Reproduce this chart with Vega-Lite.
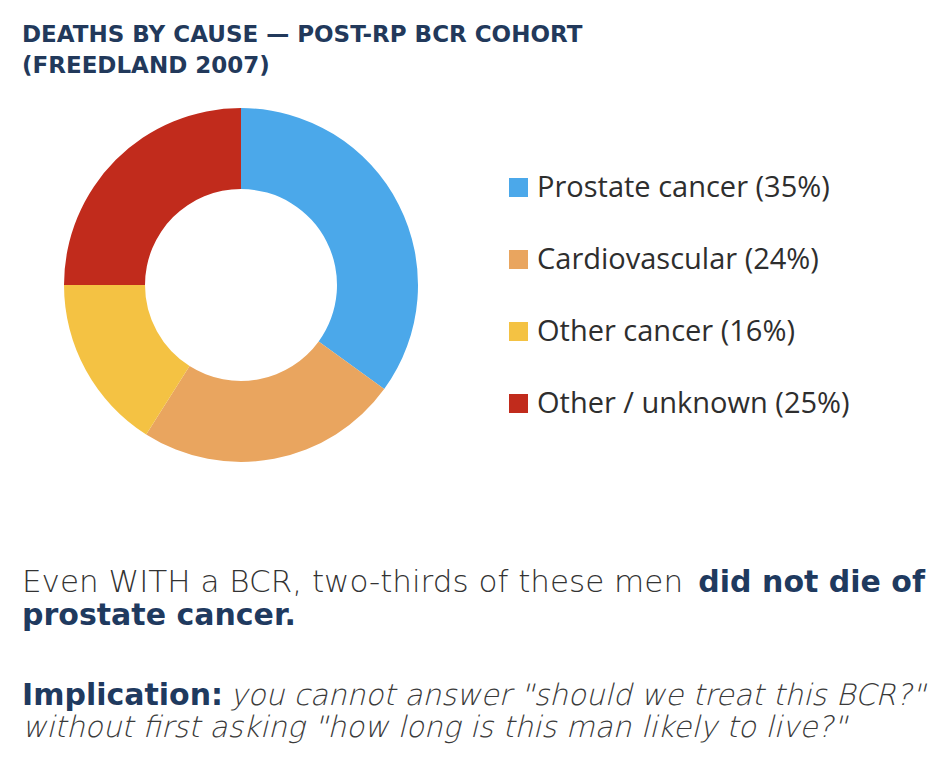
{
  "$schema": "https://vega.github.io/schema/vega-lite/v6.json",
  "background": "white",
  "padding": {"left": 22, "top": 24, "right": 12, "bottom": 0},
  "title": {
    "text": ["DEATHS BY CAUSE — POST-RP BCR COHORT", "(FREEDLAND 2007)"],
    "anchor": "start",
    "font": "DejaVu Sans",
    "fontSize": 23,
    "fontWeight": "bold",
    "color": "#22395B",
    "lineHeight": 31,
    "offset": 30
  },
  "config": {"view": {"stroke": null}},
  "spacing": 104,
  "vconcat": [
    {
      "width": 438,
      "height": 354,
      "data": {"values": [
        {"cause": "Prostate cancer (35%)", "pct": 35, "rank": 1},
        {"cause": "Cardiovascular (24%)", "pct": 24, "rank": 2},
        {"cause": "Other cancer (16%)", "pct": 16, "rank": 3},
        {"cause": "Other / unknown (25%)", "pct": 25, "rank": 4}
      ]},
      "mark": {"type": "arc", "innerRadius": 96, "outerRadius": 177},
      "encoding": {
        "theta": {"field": "pct", "type": "quantitative", "stack": true},
        "order": {"field": "rank", "type": "quantitative"},
        "color": {
          "field": "cause",
          "type": "nominal",
          "sort": ["Prostate cancer (35%)", "Cardiovascular (24%)", "Other cancer (16%)", "Other / unknown (25%)"],
          "scale": {
            "domain": ["Prostate cancer (35%)", "Cardiovascular (24%)", "Other cancer (16%)", "Other / unknown (25%)"],
            "range": ["#4BA8EA", "#E9A55F", "#F4C243", "#C12B1C"]
          },
          "legend": {
            "title": null,
            "orient": "none",
            "legendX": 482,
            "legendY": 65,
            "symbolType": "square",
            "symbolSize": 361,
            "symbolStrokeWidth": 0,
            "symbolOpacity": 1,
            "labelFont": "Open Sans",
            "labelFontSize": 29,
            "labelColor": "#2E2E2E",
            "labelOffset": 4,
            "labelLimit": 500,
            "rowPadding": 42,
            "padding": 0
          }
        }
      }
    },
    {
      "spacing": 48,
      "vconcat": [
        {
          "width": 903,
          "height": 66,
          "data": {"values": [
            {"line": "1", "part": "lead", "text": "Even WITH a BCR, two-thirds of these men"},
            {"line": "1", "part": "emph", "text": "did not die of"},
            {"line": "2", "part": "emphstart", "text": "prostate cancer."}
          ]},
          "encoding": {
            "y": {"field": "line", "type": "ordinal", "axis": null, "scale": {"type": "point", "domain": ["1", "2"], "padding": 0.5}},
            "text": {"field": "text"}
          },
          "layer": [
            {
              "transform": [{"filter": "datum.part === 'lead'"}],
              "mark": {"type": "text", "align": "left", "font": "DejaVu Sans", "fontWeight": 200, "fontSize": 31, "color": "#333333"},
              "encoding": {"x": {"value": 0}}
            },
            {
              "transform": [{"filter": "datum.part === 'emph'"}],
              "mark": {"type": "text", "align": "right", "font": "DejaVu Sans", "fontWeight": "bold", "fontSize": 30, "color": "#1F3A5F"},
              "encoding": {"x": {"value": "width"}}
            },
            {
              "transform": [{"filter": "datum.part === 'emphstart'"}],
              "mark": {"type": "text", "align": "left", "font": "DejaVu Sans", "fontWeight": "bold", "fontSize": 30, "color": "#1F3A5F"},
              "encoding": {"x": {"value": 0}}
            }
          ]
        },
        {
          "width": 903,
          "height": 64,
          "data": {"values": [
            {"line": "1", "part": "emphstart", "text": "Implication:"},
            {"line": "1", "part": "note", "text": "you cannot answer \"should we treat this BCR?\""},
            {"line": "2", "part": "notestart", "text": "without first asking \"how long is this man likely to live?\""}
          ]},
          "encoding": {
            "y": {"field": "line", "type": "ordinal", "axis": null, "scale": {"type": "point", "domain": ["1", "2"], "padding": 0.5}},
            "text": {"field": "text"}
          },
          "layer": [
            {
              "transform": [{"filter": "datum.part === 'emphstart'"}],
              "mark": {"type": "text", "align": "left", "font": "DejaVu Sans", "fontWeight": "bold", "fontSize": 30, "color": "#1F3A5F"},
              "encoding": {"x": {"value": 0}}
            },
            {
              "transform": [{"filter": "datum.part === 'note'"}],
              "mark": {"type": "text", "align": "right", "font": "DejaVu Sans Light, DejaVu Sans", "fontWeight": 200, "fontStyle": "italic", "fontSize": 29.5, "color": "#3A3A3A"},
              "encoding": {"x": {"value": "width"}}
            },
            {
              "transform": [{"filter": "datum.part === 'notestart'"}],
              "mark": {"type": "text", "align": "left", "font": "DejaVu Sans Light, DejaVu Sans", "fontWeight": 200, "fontStyle": "italic", "fontSize": 29.5, "color": "#3A3A3A"},
              "encoding": {"x": {"value": 0}}
            }
          ]
        }
      ]
    }
  ]
}
